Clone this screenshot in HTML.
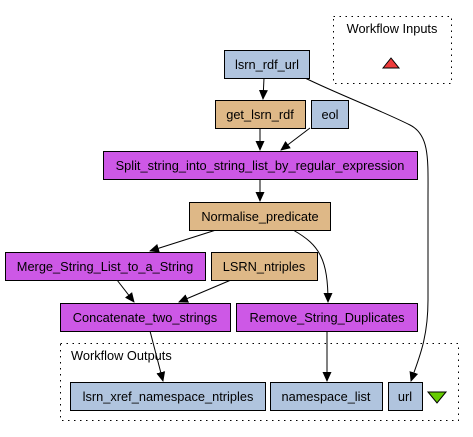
<!DOCTYPE html>
<html><head><style>
body{margin:0;background:#fff}
svg{display:block}
text{font-family:"Liberation Sans",sans-serif;font-size:12.8px;fill:#000}
</style></head><body>
<svg width="473" height="437" viewBox="0 0 473 437">
<defs><marker id="a" markerWidth="10" markerHeight="10" refX="9" refY="5" orient="auto" markerUnits="userSpaceOnUse"><path d="M0,0.5 L10,5 L0,9.5 z" fill="#000"/></marker></defs>
<rect x="333.5" y="16.5" width="118" height="67" fill="none" stroke="#000" stroke-dasharray="1.5,4.5"/>
<text x="392" y="33" text-anchor="middle">Workflow Inputs</text>
<path d="M383,68 L391,58 L399,68 z" fill="#ee3b3b" stroke="#000"/>
<rect x="60.5" y="343.5" width="398" height="77" fill="none" stroke="#000" stroke-dasharray="1.5,4.5"/>
<text x="71" y="360">Workflow Outputs</text>
<path d="M428,392 L446,392 L437,403 z" fill="#66cc00" stroke="#000"/>
<g stroke="#000" fill="none">
<path d="M264,78 L263,99" marker-end="url(#a)"/>
<path d="M305,78 C340,95 380,110 410,125 C430,135 428,160 428,200 L428,300 C428,340 418,360 411,381" marker-end="url(#a)"/>
<path d="M260,128 L260,150" marker-end="url(#a)"/>
<path d="M310,128 L281,150" marker-end="url(#a)"/>
<path d="M260,179 L260,201" marker-end="url(#a)"/>
<path d="M216,230 L150,251" marker-end="url(#a)"/>
<path d="M293,230 C320,245 328,260 328,302" marker-end="url(#a)"/>
<path d="M117,280 L134,302" marker-end="url(#a)"/>
<path d="M231,280 L179,302" marker-end="url(#a)"/>
<path d="M150,331 L163,381" marker-end="url(#a)"/>
<path d="M327,331 L327,381" marker-end="url(#a)"/>
</g>
<g stroke="#000">
<rect x="224.5" y="50.5" width="85" height="28" fill="#b0c4de"/>
<rect x="215.5" y="100.5" width="90" height="28" fill="#deb887"/>
<rect x="311.5" y="100.5" width="37" height="28" fill="#b0c4de"/>
<rect x="103.5" y="151.5" width="314" height="28" fill="#cd58e6"/>
<rect x="189.5" y="202.5" width="141" height="28" fill="#deb887"/>
<rect x="5.5" y="252.5" width="200" height="28" fill="#cd58e6"/>
<rect x="211.5" y="252.5" width="106" height="28" fill="#deb887"/>
<rect x="60.5" y="303.5" width="170" height="28" fill="#cd58e6"/>
<rect x="236.5" y="303.5" width="181" height="28" fill="#cd58e6"/>
<rect x="70.5" y="382.5" width="195" height="28" fill="#b0c4de"/>
<rect x="270.5" y="382.5" width="112" height="28" fill="#b0c4de"/>
<rect x="388.5" y="382.5" width="34" height="28" fill="#b0c4de"/>
</g>
<g text-anchor="middle">
<text x="267" y="69">lsrn_rdf_url</text>
<text x="260" y="119">get_lsrn_rdf</text>
<text x="330" y="119">eol</text>
<text x="260" y="170">Split_string_into_string_list_by_regular_expression</text>
<text x="260" y="221">Normalise_predicate</text>
<text x="105" y="271">Merge_String_List_to_a_String</text>
<text x="264" y="271">LSRN_ntriples</text>
<text x="145" y="322">Concatenate_two_strings</text>
<text x="327" y="322">Remove_String_Duplicates</text>
<text x="168" y="401">lsrn_xref_namespace_ntriples</text>
<text x="326" y="401">namespace_list</text>
<text x="405" y="401">url</text>
</g>
</svg>
</body></html>
